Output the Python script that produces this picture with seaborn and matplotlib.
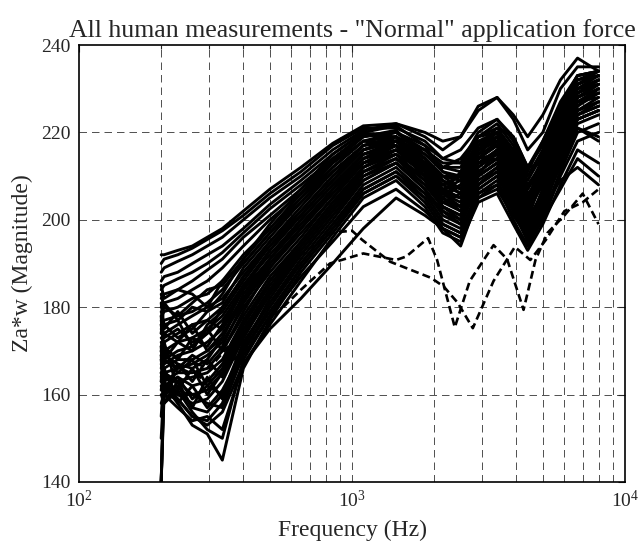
import numpy as np
import pandas as pd
import matplotlib
matplotlib.use("Agg")
import matplotlib.pyplot as plt
import seaborn as sns
from matplotlib.ticker import FixedLocator, FixedFormatter, NullFormatter

# ---------------- data ----------------
freq_grid = [200, 205, 230, 260, 295, 335, 400, 500, 650, 850, 1100,
             1450, 1850, 2150, 2500, 2900, 3400, 3900, 4400, 5000, 5800, 6700, 8000]

upper_curves = [
    [190, 191, 192, 193.5, 195.5, 197.5, 201, 206, 211, 217, 221, 221, 218, 214, 216, 221, 223, 218, 212, 218, 226, 233, 234],
    [188, 189, 190.5, 192, 194, 196, 200, 205, 210, 216, 220.5, 222, 219, 216, 219, 225, 228, 224, 219, 224, 232, 237, 234],
    [186, 187, 188, 190, 192, 194, 198, 203.5, 209, 215, 220, 221.5, 217, 211, 210, 216, 220, 214, 207, 214, 224, 231, 233],
    [184, 185, 186.5, 188, 190, 192.5, 197, 202.5, 208, 214, 219, 220.5, 214, 206, 205, 214, 218, 211, 202, 212, 222, 229, 232],
    [182, 183, 184, 186, 188.5, 191, 196, 201, 207, 213.5, 219.5, 219, 211, 202, 199, 210, 216, 209, 200, 210, 220, 228, 231],
    [192, 192, 193, 194, 196, 198, 202, 207, 212, 217.5, 221.5, 222, 220, 218, 219, 226, 228, 223, 216, 220, 230, 235, 235],
]

middle_curves = [
    [180, 181, 182, 184, 186, 189, 194, 200, 206, 213, 218, 219, 213, 208, 210, 216, 219, 213, 205, 213, 224, 231, 233],
    [178, 179, 180, 182, 183, 186, 192, 198, 205, 212, 218, 220, 215, 211, 209, 217, 218, 210, 203, 211, 222, 230, 232],
    [176, 177, 178, 179, 181, 184, 190, 197, 204, 211, 217, 219, 216, 213, 213, 219, 221, 216, 210, 216, 226, 232, 234],
    [175, 174, 176, 178, 180, 182, 188, 195, 202, 210, 216, 218, 212, 206, 204, 213, 216, 206, 199, 207, 219, 228, 230],
    [173, 172, 174, 176, 177, 180, 187, 194, 201, 209, 216, 219, 214, 210, 210, 218, 220, 212, 204, 214, 224, 230, 233],
    [172, 170, 172, 173, 175, 178, 185, 192, 200, 208, 215, 217, 210, 204, 202, 211, 214, 204, 198, 204, 217, 226, 229],
    [170, 168, 170, 171, 174, 177, 184, 191, 199, 207, 214, 218, 215, 212, 212, 219, 222, 217, 211, 218, 227, 233, 234],
    [168, 167, 169, 170, 172, 175, 182, 190, 198, 206, 214, 217, 211, 207, 205, 214, 217, 208, 201, 210, 221, 229, 231],
    [140, 166, 168, 168, 170, 174, 181, 189, 197, 205, 213, 216, 210, 205, 203, 212, 215, 205, 198, 207, 218, 227, 230],
    [167, 165, 166, 167, 169, 172, 180, 188, 196, 205, 213, 217, 213, 209, 207, 216, 218, 210, 202, 211, 222, 230, 232],
    [165, 163, 165, 165, 166, 170, 178, 187, 195, 204, 212, 215, 209, 203, 201, 210, 213, 203, 197, 203, 215, 225, 228],
    [140, 164, 163, 164, 165, 168, 177, 186, 194, 203, 212, 216, 212, 208, 206, 214, 217, 209, 201, 209, 220, 228, 231],
    [163, 162, 164, 162, 163, 167, 176, 185, 194, 203, 211, 214, 208, 203, 200, 209, 212, 204, 196, 202, 214, 224, 226],
    [170, 165, 163, 160, 161, 165, 175, 184, 193, 202, 211, 215, 211, 207, 205, 215, 219, 213, 205, 211, 221, 229, 232],
    [183, 180, 178, 181, 184, 185, 191, 199, 207, 215, 220, 218, 213, 206, 211, 218, 217, 208, 203, 215, 225, 231, 233],
    [179, 176, 177, 180, 179, 183, 191, 198, 206, 214, 219.5, 220, 216, 212, 214, 219, 220, 215, 208, 213, 223, 230, 231],
    [174, 176, 173, 175, 179, 181, 189, 196, 204, 212, 218, 217, 211, 205, 208, 215, 219, 215, 206, 210, 220, 227, 228],
    [171, 174, 172, 170, 176, 179, 186, 194, 202, 210, 217, 218, 214, 210, 207, 214, 215, 208, 200, 206, 216, 223, 225],
    [169, 171, 168, 173, 171, 176, 185, 193, 201, 209, 216, 218, 216, 212, 211, 217, 221, 219, 212, 213, 221, 227, 229],
    [177, 173, 175, 172, 174, 180, 187, 195, 203, 211, 217, 219, 212, 204, 203, 212, 216, 210, 204, 212, 223, 231, 234],
    [166, 169, 167, 166, 168, 173, 183, 191, 199, 207, 214, 216, 213, 210, 209, 216, 218, 212, 205, 208, 218, 226, 230],
    [164, 168, 166, 169, 167, 171, 181, 190, 198, 206, 213, 215, 209, 204, 206, 213, 214, 207, 199, 205, 216, 224, 227],
]

jagged_curves = [
    [176, 170, 165, 168, 162, 166, 176, 186, 195, 204, 212, 216, 211, 206, 208, 215, 217, 211, 203, 209, 219, 227, 229],
    [181, 175, 179, 174, 177, 175, 184, 193, 201, 209, 216, 218, 214, 209, 206, 214, 218, 214, 207, 212, 222, 229, 232],
    [171, 160, 167, 163, 168, 164, 174, 184, 194, 203, 211, 214, 210, 206, 203, 211, 214, 208, 200, 206, 216, 225, 227],
    [178, 168, 172, 176, 170, 173, 182, 191, 200, 208, 215, 217, 213, 207, 209, 217, 219, 211, 202, 208, 219, 228, 231],
    [163, 172, 161, 166, 160, 165, 173, 183, 193, 202, 210, 214, 209, 205, 202, 210, 213, 207, 199, 205, 215, 224, 226],
    [174, 181, 177, 171, 175, 170, 179, 189, 198, 207, 215, 218, 212, 208, 210, 217, 220, 216, 209, 215, 225, 232, 233],
    [169, 158, 163, 157, 164, 159, 171, 182, 192, 201, 209, 213, 207, 202, 199, 208, 211, 204, 197, 204, 214, 223, 225],
    [185, 182, 184, 183, 180, 186, 190, 197, 205, 213, 219, 220, 217, 214, 213, 220, 223, 219, 212, 217, 226, 233, 234],
]

lower_curves = [
    [165, 162, 160, 158, 159, 163, 173, 183, 192, 201, 210, 213, 207, 201, 199, 208, 211, 204, 196, 203, 213, 222, 224],
    [140, 160, 162, 157, 156, 160, 171, 181, 191, 200, 209, 213, 208, 203, 201, 210, 213, 206, 199, 206, 216, 225, 227],
    [162, 160, 159, 155, 154, 158, 170, 180, 190, 199, 208, 212, 206, 200, 198, 206, 209, 202, 195, 201, 211, 220, 222],
    [160, 158, 161, 156, 152, 150, 168, 178, 189, 198, 207, 211, 205, 199, 197, 205, 208, 200, 194, 200, 210, 218, 220],
    [140, 162, 158, 153, 151, 145, 166, 177, 188, 197, 206, 210, 204, 198, 196, 207, 210, 203, 197, 204, 212, 221, 218],
    [158, 160, 157, 154, 155, 152, 167, 176, 186, 196, 205, 209, 203, 197, 195, 204, 206, 199, 193, 199, 208, 216, 213],
    [155, 165, 160, 160, 158, 157, 169, 178, 187, 195, 203, 207, 202, 198, 194, 205, 207, 201, 196, 200, 207, 214, 210],
    [150, 163, 159, 155, 153, 156, 167, 175, 182, 190, 198, 205, 201, 198, 196, 206, 208, 202, 197, 203, 209, 212, 208],
    [168, 161, 164, 159, 162, 160, 172, 181, 190, 199, 207, 211, 206, 202, 200, 208, 212, 205, 195, 202, 213, 221, 219],
    [161, 166, 158, 162, 157, 161, 170, 179, 189, 198, 206, 210, 205, 199, 197, 207, 210, 206, 198, 205, 214, 223, 225],
]

dashed_a_freq = [200, 300, 400, 500, 650, 830, 1100, 1450, 1580, 1900, 2050, 2380, 2700,
                 3300, 3700, 4250, 4700, 5200, 6000, 7000, 8000]
dashed_a_vals = [168, 163, 170, 177, 184, 190, 192.3, 190.8, 191.6, 195.8, 190.8, 175.4, 186,
                 194.2, 191, 179.4, 190.8, 197, 201, 206, 199]

dashed_b_freq = [200, 300, 400, 500, 650, 830, 1000, 1090, 1380, 1950, 2170, 2440, 2770,
                 3300, 3950, 4500, 5130, 6000, 7000, 8000]
dashed_b_vals = [170, 166, 175, 184, 192, 197, 197.5, 195.4, 190.4, 186.7, 184.7, 181, 175.2,
                 186, 193.8, 190.8, 195.4, 202, 204, 207]

y_ticks = [140, 160, 180, 200, 220, 240]
x_ticks = [100, 1000, 10000]
x_tick_labels = [r"$10^{2}$", r"$10^{3}$", r"$10^{4}$"]

# ---------------- long-form table ----------------
rows = []
cid = 0
for group in (upper_curves, middle_curves, jagged_curves, lower_curves):
    for vals in group:
        for f, v in zip(freq_grid, vals):
            rows.append((f, v, f"s{cid:02d}"))
        cid += 1
solid_df = pd.DataFrame(rows, columns=["freq", "mag", "curve"])
dash_a_df = pd.DataFrame({"freq": dashed_a_freq, "mag": dashed_a_vals})
dash_b_df = pd.DataFrame({"freq": dashed_b_freq, "mag": dashed_b_vals})

# ---------------- style ----------------
sns.set_style("white")
plt.rcParams["font.family"] = ["Liberation Serif", "DejaVu Serif"]
plt.rcParams["mathtext.fontset"] = "custom"
plt.rcParams["mathtext.rm"] = "Liberation Serif"
plt.rcParams["mathtext.it"] = "Liberation Serif"

fig = plt.figure(figsize=(6.44, 5.48), dpi=100)
ax = fig.add_axes([79 / 644, (548 - 482) / 548, (625 - 79) / 644, (482 - 45) / 548])

ax.set_xscale("log")
ax.set_xlim(100, 10000)
ax.set_ylim(140, 240)

# grid (major + minor decades)
grid_kw = dict(color="0.2", lw=0.6, ls=(0, (9, 6)), zorder=0)
for d in (100, 1000):
    for m in range(1, 10):
        xv = d * m
        if 100 < xv < 10000:
            ax.axvline(xv, **grid_kw)
for yv in y_ticks[1:-1]:
    ax.axhline(yv, **grid_kw)

sns.lineplot(data=solid_df, x="freq", y="mag", units="curve",
             estimator=None, color="black", lw=2.1, sort=False, ax=ax, legend=False, zorder=3)

for ddf in (dash_a_df, dash_b_df):
    n0 = len(ax.get_lines())
    sns.lineplot(data=ddf, x="freq", y="mag", estimator=None, color="black", lw=1.9,
                 sort=False, ax=ax, legend=False, zorder=4)
    for ln in ax.get_lines()[n0:]:
        ln.set_linestyle((0, (3, 1.6)))

ax.xaxis.set_major_locator(FixedLocator(x_ticks))
ax.xaxis.set_major_formatter(FixedFormatter(x_tick_labels))
ax.xaxis.set_minor_formatter(NullFormatter())
ax.set_yticks(y_ticks)
ax.tick_params(axis="both", which="both", direction="in", top=True, right=True,
               labelsize=14, length=5, width=0.8, pad=6)
ax.tick_params(axis="x", which="minor", length=3)

for s in ax.spines.values():
    s.set_visible(True)
    s.set_color("black")
    s.set_linewidth(1.2)

ax.set_xlabel("Frequency (Hz)", fontsize=17, labelpad=6)
ax.set_ylabel("Za*w (Magnitude)", fontsize=17, labelpad=6)
ax.set_title('All human measurements - "Normal" application force', fontsize=18.6, pad=6)

fig.savefig("out.png", dpi=100)
